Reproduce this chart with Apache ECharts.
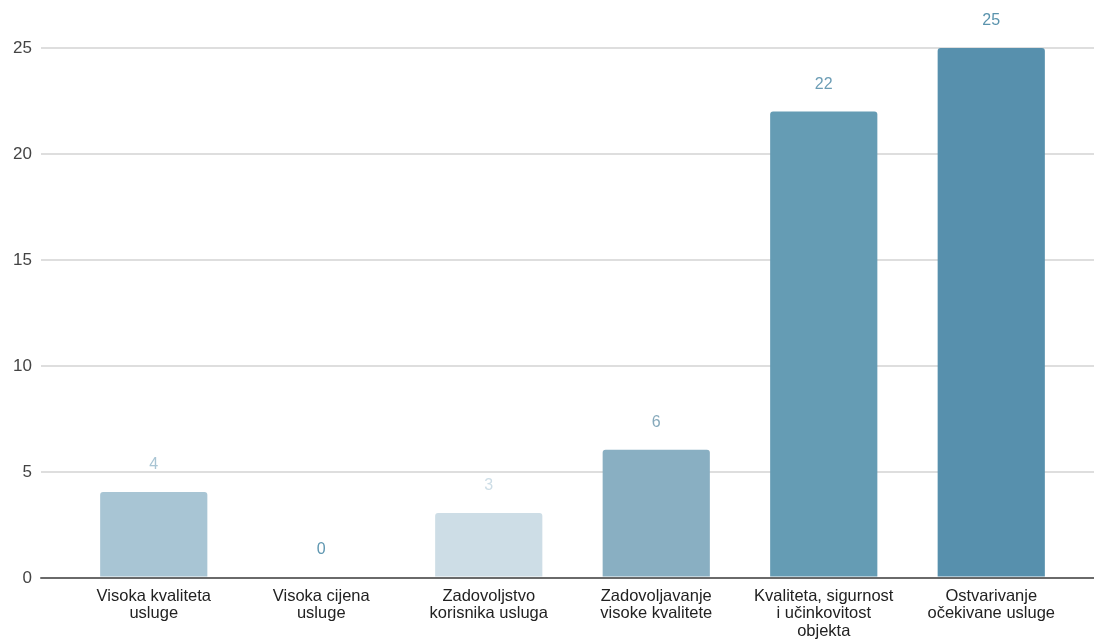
<!DOCTYPE html>
<html><head><meta charset="utf-8">
<script src="https://cdn.jsdelivr.net/npm/echarts@6/dist/echarts.min.js"></script>
<style>html,body{margin:0;padding:0;background:#fff}#c{width:1094px;height:640px}</style>
</head><body><div id="c"></div>
<script>
const categories = ['Visoka kvaliteta\nusluge','Visoka cijena\nusluge','Zadovoljstvo\nkorisnika usluga','Zadovoljavanje\nvisoke kvalitete','Kvaliteta, sigurnost\ni učinkovitost\nobjekta','Ostvarivanje\nočekivane usluge'];
const values = [4, 0, 3, 6, 22, 25];
const barColors = ['#a8c5d4','#5d96b0','#cddde6','#89afc2','#659cb4','#5790ad'];
const labelColors = ['#a9c5d4','#5f97b1','#cddde6','#86a9bb','#6c9db5','#5a93ad'];
const yTicks = [0,5,10,15,20,25];
const FF = 'Liberation Sans, Arial, sans-serif';

const chart = echarts.init(document.getElementById('c'));
chart.setOption({
  animation:false,
  grid:[
    {left:41,right:0,top:48,bottom:62},
    {left:70,right:19,top:48,bottom:62}
  ],
  xAxis:[
    {gridIndex:0,type:'value',min:0,max:1,axisLabel:{show:false},axisTick:{show:false},splitLine:{show:false},
     axisLine:{show:true,onZero:false,lineStyle:{color:'#6a6a6a',width:2}}},
    {gridIndex:1,type:'category',data:categories,axisLine:{show:false},axisTick:{show:false},
     axisLabel:{interval:0,margin:11,color:'#222',fontSize:16.5,lineHeight:17.5,fontFamily:FF}}
  ],
  yAxis:[
    {gridIndex:0,type:'value',min:0,max:25,interval:5,
     axisLine:{show:false},axisTick:{show:false},
     axisLabel:{color:'#444',fontSize:17,margin:9,fontFamily:FF,
       formatter:v=>yTicks.includes(v)?String(v):''},
     splitLine:{lineStyle:{color:'#dedede',width:2}}},
    {gridIndex:1,type:'value',min:0,max:25,interval:5,show:false,splitLine:{show:false}}
  ],
  series:[{
    type:'bar',xAxisIndex:1,yAxisIndex:1,barWidth:'64%',
    data:values.map((v,i)=>({value:v,itemStyle:{color:barColors[i],borderRadius:[3,3,0,0]},
      label:{color:labelColors[i]}})),
    label:{show:true,position:'top',distance:19,fontSize:16,fontFamily:FF}
  }]
});
</script></body></html>
